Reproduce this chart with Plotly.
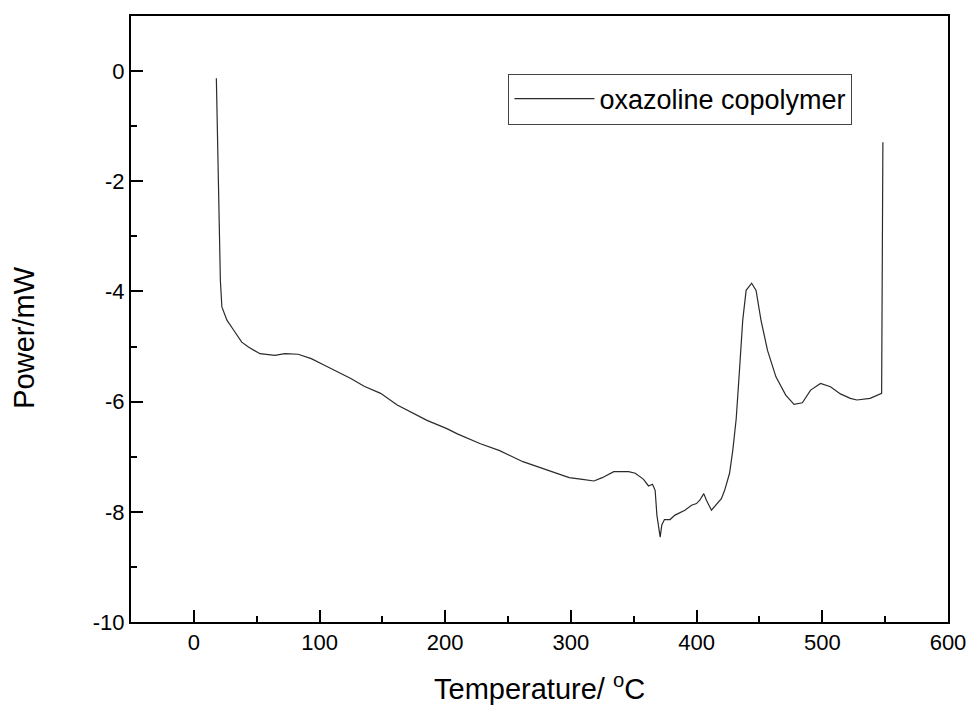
import plotly.graph_objects as go

temperature = [17.9, 19.2, 21.1, 22.3, 26.3, 31.6, 38.1, 43.4, 52.6, 64.5, 72.4, 82.9, 93.4,
               103.9, 117.0, 124.9, 135.5, 148.6, 161.8, 172.3, 185.5, 201.3, 209.2, 227.5,
               243.3, 261.8, 280.2, 288.1, 298.6, 309.2, 318.3, 324.9, 334.1, 345.9, 351.2,
               357.8, 361.7, 364.9, 367.0, 368.4, 369.1, 369.6, 371.0, 372.3, 374.4, 378.9,
               382.8, 390.7, 396.0, 399.9, 402.5, 405.7, 407.8, 411.8, 415.7, 419.7, 422.3,
               426.2, 428.8, 431.5, 434.1, 436.7, 439.4, 443.8, 447.3, 451.2, 456.4, 463.1,
               470.9, 477.5, 484.1, 490.7, 498.6, 506.5, 514.4, 522.3, 527.5, 538.0, 547.2,
               548.2]
power = [-0.13, -1.86, -3.80, -4.28, -4.52, -4.70, -4.92, -5.01, -5.13, -5.16, -5.13, -5.14, -5.22,
         -5.34, -5.49, -5.58, -5.72, -5.85, -6.06, -6.19, -6.34, -6.49, -6.58, -6.76,
         -6.89, -7.09, -7.24, -7.30, -7.38, -7.41, -7.44, -7.38, -7.27, -7.27, -7.30,
         -7.41, -7.53, -7.50, -7.61, -8.06, -8.15, -8.27, -8.46, -8.24, -8.14, -8.14,
         -8.06, -7.97, -7.88, -7.85, -7.79, -7.67, -7.79, -7.97, -7.86, -7.76, -7.61,
         -7.30, -6.88, -6.31, -5.43, -4.52, -3.98, -3.85, -3.98, -4.52, -5.07, -5.55,
         -5.88, -6.05, -6.02, -5.79, -5.67, -5.73, -5.86, -5.94, -5.97, -5.94, -5.85,
         -1.29]

series_name = "oxazoline copolymer"
x_ticks = [0, 100, 200, 300, 400, 500, 600]
x_ticklabels = ["0", "100", "200", "300", "400", "500", "600"]
y_ticks = [-10, -8, -6, -4, -2, 0]
y_ticklabels = ["-10", "-8", "-6", "-4", "-2", "0"]
x_title = "Temperature/ <sup>o</sup>C"
y_title = "Power/mW"

FONT = "Liberation Sans, Arial, sans-serif"

fig = go.Figure()
fig.add_trace(go.Scatter(x=temperature, y=power, mode="lines", name=series_name,
                         line=dict(color="#2a2a2a", width=1.2)))

axis_common = dict(showline=True, linewidth=2, linecolor="black", mirror=True,
                   ticks="inside", ticklen=12, tickwidth=2, tickcolor="black",
                   showgrid=False, zeroline=False,
                   tickfont=dict(family=FONT, size=22, color="black"))

fig.update_xaxes(range=[-50, 600], tickvals=x_ticks, ticktext=x_ticklabels,
                 minor=dict(dtick=50, ticks="inside", ticklen=6, tickwidth=2, tickcolor="black"),
                 **axis_common)
fig.update_yaxes(range=[-10, 1], tickvals=y_ticks, ticktext=y_ticklabels,
                 minor=dict(dtick=1, ticks="inside", ticklen=6, tickwidth=2, tickcolor="black"),
                 **axis_common)

fig.add_annotation(text=x_title, xref="paper", yref="paper", x=0.5, y=-0.108,
                   xanchor="center", yanchor="middle", showarrow=False,
                   font=dict(family=FONT, size=29, color="black"))
fig.add_annotation(text=y_title, xref="paper", yref="paper", x=-0.131, y=0.469,
                   xanchor="center", yanchor="middle", showarrow=False, textangle=-90,
                   font=dict(family=FONT, size=29, color="black"))

fig.update_layout(
    width=978, height=713,
    margin=dict(l=131, r=22, t=16, b=91),
    plot_bgcolor="white", paper_bgcolor="white",
    showlegend=True,
    legend=dict(x=0.462, y=0.905, xanchor="left", yanchor="top",
                bordercolor="#444", borderwidth=1, bgcolor="white",
                itemwidth=80,
                font=dict(family=FONT, size=27, color="black")),
)

fig.write_html("out.html")
